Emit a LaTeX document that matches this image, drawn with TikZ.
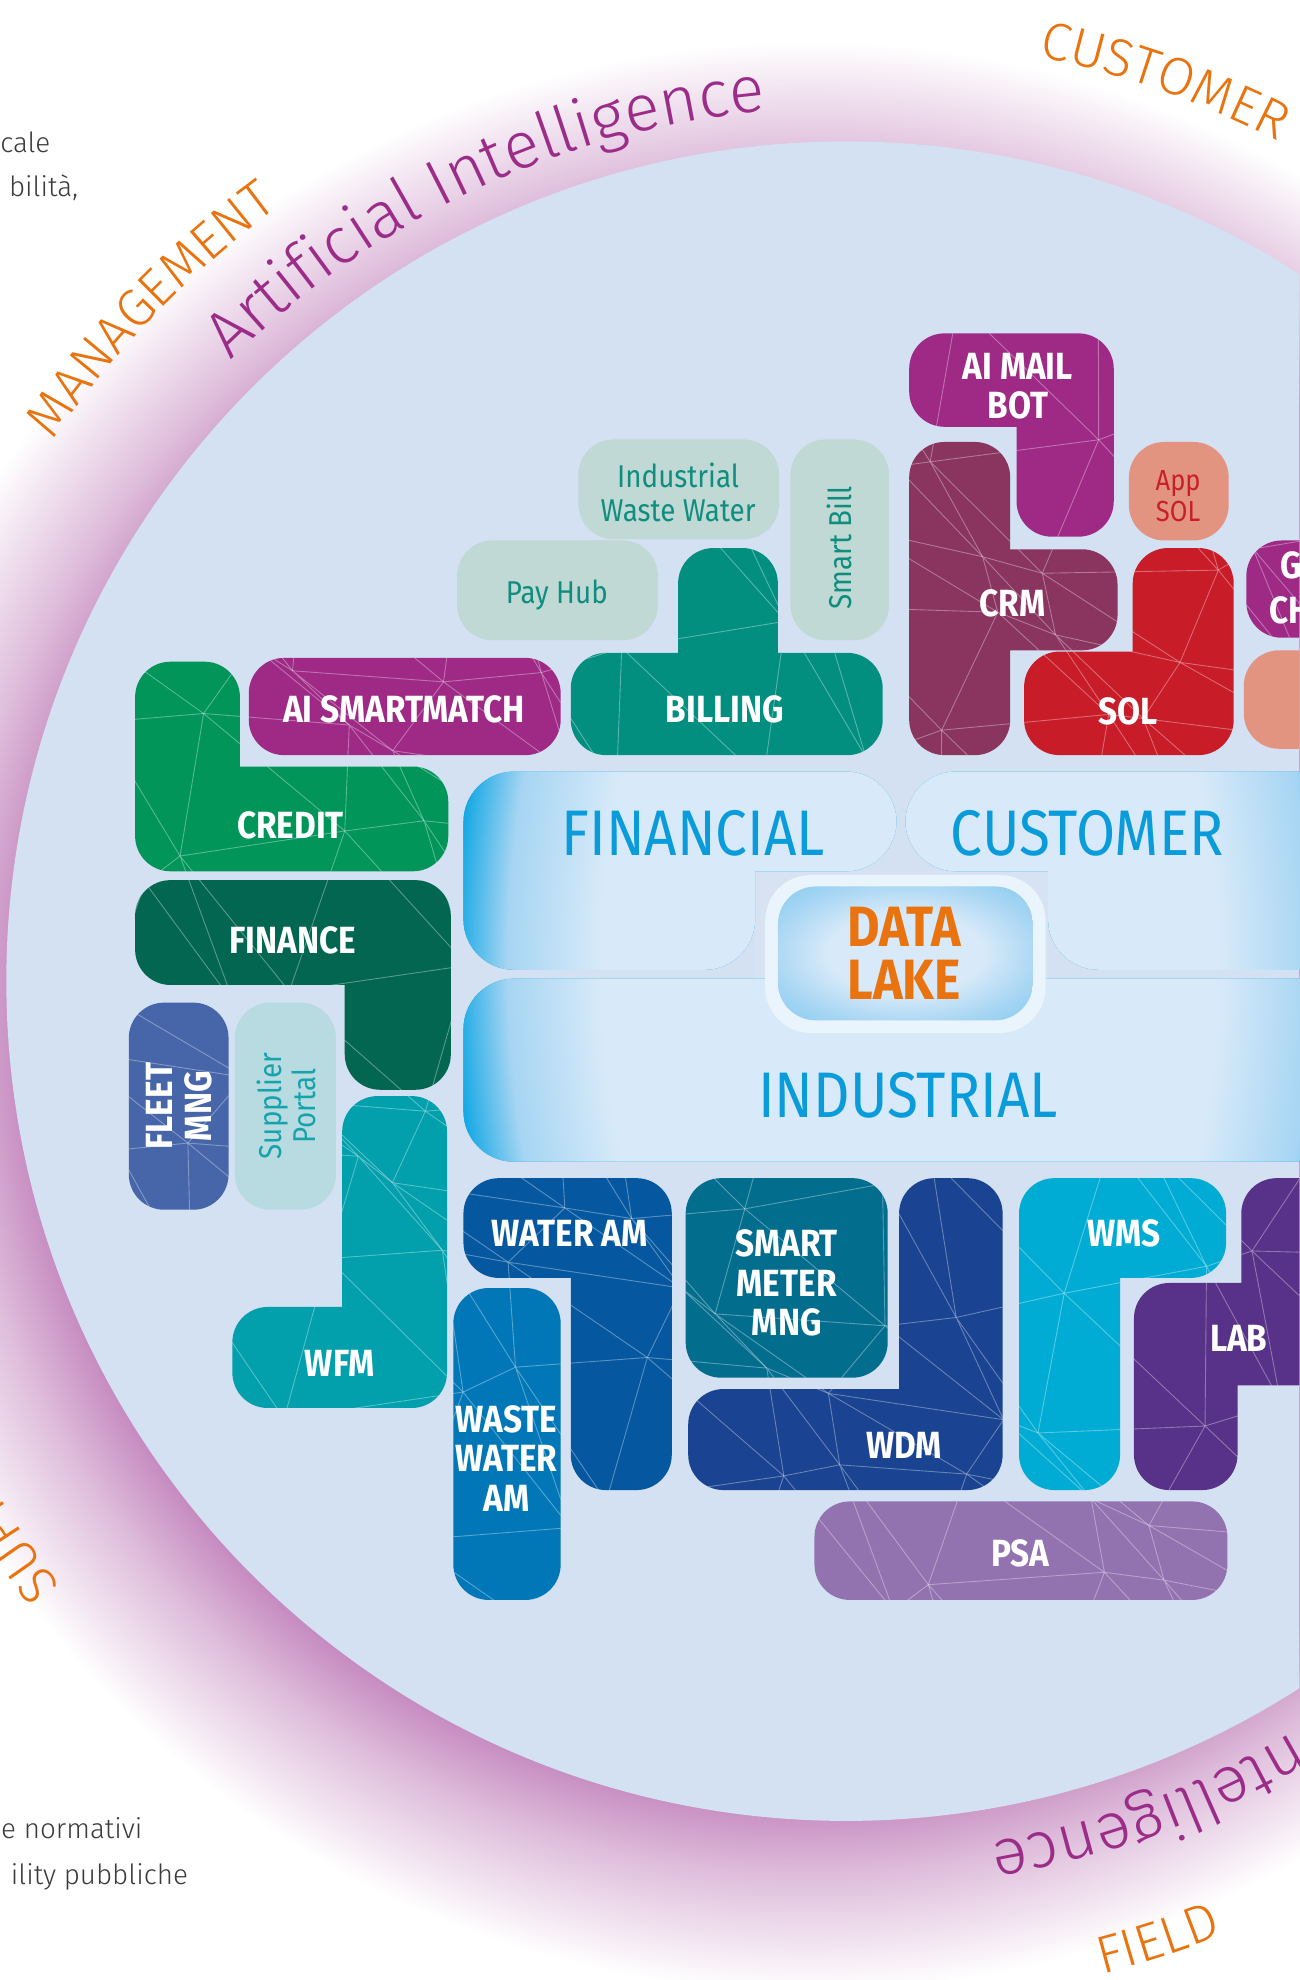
\documentclass[tikz,border=0pt]{standalone}
\usepackage{fontspec}
\setmainfont{Fira Sans}
\newfontfamily\piecefont{Fira Sans}[FakeStretch=0.88]
\def\thinname{Fira Sans}
\IfFontExistsTF{Lato Light}{\def\thinname{Lato Light}}{}
\IfFontExistsTF{Open Sans Light}{\def\thinname{Open Sans Light}}{}
\IfFontExistsTF{Noto Sans Light}{\def\thinname{Noto Sans Light}}{}
\IfFontExistsTF{FiraSans-Light.otf}{\def\thinname{FiraSans-Light.otf}}{}
\IfFontExistsTF{Fira Sans Light}{\def\thinname{Fira Sans Light}}{}
\newfontfamily\thinfont{\thinname}
\newfontfamily\ringfont{\thinname}[LetterSpace=5]
\usepackage{tikz}
\usetikzlibrary{decorations.text}
\definecolor{aimail}{HTML}{9E2A86}
\definecolor{crm}{HTML}{8A3460}
\definecolor{solred}{HTML}{C81C29}
\definecolor{billing}{HTML}{038F80}
\definecolor{credit}{HTML}{01955A}
\definecolor{finance}{HTML}{026650}
\definecolor{fleet}{HTML}{4765A9}
\definecolor{wfm}{HTML}{01A0AC}
\definecolor{wateram}{HTML}{0558A0}
\definecolor{wasteam}{HTML}{0277B8}
\definecolor{meter}{HTML}{036D8E}
\definecolor{wdm}{HTML}{1A4391}
\definecolor{wms}{HTML}{01ACD4}
\definecolor{lab}{HTML}{573288}
\definecolor{psa}{HTML}{9372B0}
\definecolor{palegreen}{HTML}{C1D9D4}
\definecolor{paletext}{HTML}{0F8E80}
\definecolor{paleblue}{HTML}{B7DBE0}
\definecolor{paleblutext}{HTML}{17A3AC}
\definecolor{salmon}{HTML}{E39480}
\definecolor{appred}{HTML}{C8202B}
\definecolor{circlebg}{HTML}{D3E1F2}
\definecolor{ringpink}{HTML}{C487BE}
\definecolor{aipurple}{HTML}{9B2D89}
\definecolor{ringorange}{HTML}{E9730E}
\definecolor{lakeblue}{HTML}{0A9BDB}
\definecolor{lakelight}{HTML}{D8EAF9}
\definecolor{lakemid}{HTML}{A6D5F3}
\definecolor{lakecyan}{HTML}{0AA5E3}
\definecolor{lakeframe}{HTML}{EAF4FC}
\definecolor{lakegap}{HTML}{D7E3F2}
\definecolor{notegray}{HTML}{3A3A3A}
\pgfdeclareradialshading{ringglow}{\pgfpoint{0bp}{0bp}}{color(0bp)=(ringpink); color(15.5bp)=(ringpink); color(17bp)=(ringpink!55!white); color(19.3bp)=(white); color(50bp)=(white)}
\pgfdeclareradialshading{lakeglow}{\pgfpoint{0bp}{0bp}}{color(0bp)=(lakelight); color(16.5bp)=(lakelight); color(21.5bp)=(lakemid); color(24.5bp)=(lakecyan); color(50bp)=(lakecyan)}
\pgfdeclareradialshading{lakecore}{\pgfpoint{0bp}{0bp}}{color(0bp)=(lakelight); color(15bp)=(lakelight); color(27bp)=(lakemid); color(36bp)=(lakemid!80!lakecyan); color(50bp)=(lakecyan)}
\pgfmathdeclarefunction{meshx}{2}{\pgfmathparse{#1*85+30*sin(#1*151+#2*263)}}
\pgfmathdeclarefunction{meshy}{2}{\pgfmathparse{#2*85+30*cos(#1*317+#2*89)}}
\tikzset{piece style/.style = {%
  rounded corners = 28pt
 },
 centre style/.style = {
  rounded corners = 40pt
 },
 label style/.style = {
  text = white,
  font = \piecefont\bfseries\fontsize{30}{31}\selectfont,
  align = center,
  inner sep = 0pt
 },
 pale label style/.style = {
  text = paletext,
  font = \piecefont\fontsize{25}{27}\selectfont,
  align = center,
  inner sep = 0pt
 },
 big label style/.style = {
  text = lakeblue,
  font = \piecefont\fontsize{51}{54}\selectfont,
  inner sep = 0pt
 },
 note style/.style = {
  text = notegray,
  font = \thinfont\fontsize{22}{26}\selectfont,
  inner sep = 0pt,
  anchor = base east
 },
 mesh style/.style = {
  draw = white,
  draw opacity = 0.34,
  line width = 0.7pt
 }
}
\newcommand\shpaimail{(720,-264) rectangle (882,-338) (805,-264) rectangle (882,-425)}
\newcommand\shpcrm{(720,-350) rectangle (800,-598) (720,-435) rectangle (885,-515)}
\newcommand\shpsol{(897,-434) rectangle (977,-598) (811,-516) rectangle (977,-598)}
\newcommand\shpgch{(987,-428) rectangle (1100,-505)}
\newcommand\shpbilling{(452,-517) rectangle (699,-598) (537,-434) rectangle (616,-598)}
\newcommand\shpmatch{(197,-521) rectangle (444,-598)}
\newcommand\shpcredit{(107,-524) rectangle (190,-690) (107,-607) rectangle (355,-690)}
\newcommand\shpfinance{(107,-697) rectangle (357,-780) (273,-697) rectangle (357,-863)}
\newcommand\shpfleet{(102,-794) rectangle (181,-958)}
\newcommand\shpwfm{(271,-868) rectangle (354,-1115) (184,-1035) rectangle (354,-1115)}
\newcommand\shpwateram{(367,-933) rectangle (532,-1012) (452,-933) rectangle (532,-1180)}
\newcommand\shpwaste{(359,-1020) rectangle (444,-1267)}
\newcommand\shpmeter{(543,-933) rectangle (703,-1091)}
\newcommand\shpwdm{(712,-933) rectangle (794,-1180) (545,-1100) rectangle (794,-1180)}
\newcommand\shpwms{(807,-933) rectangle (971,-1012) (807,-933) rectangle (887,-1180)}
\newcommand\shplab{(983,-933) rectangle (1100,-1097) (898,-1016) rectangle (1100,-1097) (898,-1016) rectangle (980,-1180)}
\newcommand\shppsa{(645,-1189) rectangle (972,-1267)}
\newcommand\shpcentre{(367,-611) rectangle (710,-690) (367,-611) rectangle (598,-768)
  (717,-611) rectangle (1100,-690) (830,-611) rectangle (1100,-768)
  (367,-775) rectangle (1100,-920)}

\begin{document}
\begin{tikzpicture}[x=1pt,y=1pt]
  \useasboundingbox (0,0) rectangle (1029,-1568);
  \clip (0,0) rectangle (1029,-1568);
  \fill[white] (0,0) rectangle (1029,-1568);
  \coordinate (hub) at (670,-777);
  \coordinate (glow) at (640,-805);
  \shade[shading=ringglow] (glow) circle[radius=1000];
  \fill[circlebg] (hub) circle[radius=665];

  \fill[lakegap] (598,-690) rectangle (830,-775);
  \begin{scope}
    \clip[centre style] \shpcentre;
    \fill[lakecyan] (300,-560) rectangle (1100,-960);
    \shade[shading=lakeglow] (720,-765) ellipse[x radius=370, y radius=620];
  \end{scope}
  \fill[lakeframe, rounded corners=36pt] (606,-693) rectangle (828,-818);
  \shade[shading=lakecore, rounded corners=30pt] (616,-702) rectangle (818,-808);

  \fill[piece style, palegreen] (458,-348) rectangle (617,-427);
  \fill[piece style, palegreen] (626,-348) rectangle (704,-507);
  \fill[piece style, palegreen] (362,-428) rectangle (521,-507);
  \fill[piece style, paleblue] (186,-794) rectangle (266,-958);
  \fill[piece style, salmon] (894,-350) rectangle (973,-428);
  \fill[piece style, salmon] (985,-515) rectangle (1100,-593);

  \foreach \shp/\col in {\shpaimail/aimail, \shpcrm/crm, \shpsol/solred, \shpgch/aimail,
      \shpbilling/billing, \shpmatch/aimail, \shpcredit/credit, \shpfinance/finance,
      \shpfleet/fleet, \shpwfm/wfm, \shpwateram/wateram, \shpwaste/wasteam,
      \shpmeter/meter, \shpwdm/wdm, \shpwms/wms, \shplab/lab, \shppsa/psa}
    \fill[piece style, \col] \shp;

  \begin{scope}
    \clip[piece style] \shpaimail \shpcrm \shpsol \shpgch \shpbilling \shpmatch \shpcredit
      \shpfinance \shpfleet \shpwfm \shpwateram \shpwaste \shpmeter \shpwdm \shpwms \shplab \shppsa;
    \foreach \i in {0,...,13}
      \foreach \j in {2,...,16}
        \draw[mesh style] ({meshx(\i,\j)},{-meshy(\i,\j)}) -- ({meshx(\i+1,\j)},{-meshy(\i+1,\j)})
          ({meshx(\i,\j)},{-meshy(\i,\j)}) -- ({meshx(\i,\j+1)},{-meshy(\i,\j+1)})
          ({meshx(\i,\j)},{-meshy(\i,\j)}) -- ({meshx(\i+1,\j+1)},{-meshy(\i+1,\j+1)});
  \end{scope}

  \node[big label style] (financial) at (549,-660) {FINANCIAL};
  \node[big label style] (customer) at (861,-660) {CUSTOMER};
  \node[big label style] (industrial) at (719,-867) {INDUSTRIAL};
  \node[label style, text=ringorange, font=\piecefont\bfseries\fontsize{45}{42}\selectfont] (datalake) at (716,-755) {DATA\\LAKE};

  \node[label style] (aimailbot) at (806,-306) {AI MAIL\\BOT};
  \node[label style] (crmlabel) at (802,-478) {CRM};
  \node[label style] (sollabel) at (893,-563) {SOL};
  \node[label style, anchor=west] (glabel) at (1014,-448) {G};
  \node[label style, anchor=west] (chlabel) at (1005,-483) {CH};
  \node[label style] (billinglabel) at (574,-562) {BILLING};
  \node[label style] (matchlabel) at (320,-562) {AI SMARTMATCH};
  \node[label style] (creditlabel) at (230,-654) {CREDIT};
  \node[label style] (financelabel) at (232,-745) {FINANCE};
  \node[label style, rotate=90] (fleetlabel) at (142,-876) {FLEET\\MNG};
  \node[label style] (wfmlabel) at (269,-1080) {WFM};
  \node[label style] (wateramlabel) at (451,-977) {WATER AM};
  \node[label style] (wastelabel) at (401,-1155) {WASTE\\WATER\\AM};
  \node[label style] (meterlabel) at (623,-1016) {SMART\\METER\\MNG};
  \node[label style] (wdmlabel) at (716,-1145) {WDM};
  \node[label style] (wmslabel) at (890,-977) {WMS};
  \node[label style] (lablabel) at (981,-1060) {LAB};
  \node[label style] (psalabel) at (808,-1230) {PSA};

  \node[pale label style] (iwwlabel) at (537,-390) {Industrial\\Waste Water};
  \node[pale label style] (payhublabel) at (441,-471) {Pay Hub};
  \node[pale label style, rotate=90] (smartbilllabel) at (665,-434) {Smart Bill};
  \node[pale label style, rotate=90, text=paleblutext] (supplierlabel) at (227,-876) {Supplier\\Portal};
  \node[pale label style, text=appred, font=\piecefont\fontsize{23}{25}\selectfont] (appsollabel) at (933,-393) {App\\SOL};

  \path[decorate, decoration={text along path, text align=center, text color=aipurple,
      text={|\thinfont\fontsize{52}{56}\selectfont|Artificial Intelligence}}]
    ([shift={(hub)}]140:692) arc[start angle=140, end angle=90, radius=692];
  \path[decorate, decoration={text along path, text align=right, text color=aipurple,
      text={|\thinfont\fontsize{52}{56}\selectfont|ntelligence}}]
    ([shift={(hub)}]340:692) arc[start angle=340, end angle=279.5, radius=692];
  \path[decorate, decoration={text along path, text align=center, text color=ringorange,
      text={|\ringfont\fontsize{42}{46}\selectfont|MANAGEMENT}}]
    ([shift={(hub)}]152:760) arc[start angle=152, end angle=120, radius=760];
  \path[decorate, decoration={text along path, text align=center, text color=ringorange,
      text={|\ringfont\fontsize{42}{46}\selectfont|CUSTOMER}}]
    ([shift={(hub)}]87:748) arc[start angle=87, end angle=54, radius=748];
  \path[decorate, decoration={text along path, text align=center, text color=ringorange,
      text={|\ringfont\fontsize{42}{46}\selectfont|FIELD}}]
    ([shift={(hub)}]-82:812) arc[start angle=-82, end angle=-62, radius=812];
  \path[decorate, decoration={text along path, text align=left, text color=ringorange,
      text={|\ringfont\fontsize{42}{46}\selectfont|SUPPL}}]
    ([shift={(hub)}]217.6:785) arc[start angle=217.6, end angle=170, radius=785];

  \node[note style] (notea) at (40,-121) {cale};
  \node[note style] (noteb) at (62,-156) {bilità,};
  \node[note style] (notec) at (113,-1456) {e normativi};
  \node[note style] (noted) at (149,-1492) {ility pubbliche};
\end{tikzpicture}
\end{document}
